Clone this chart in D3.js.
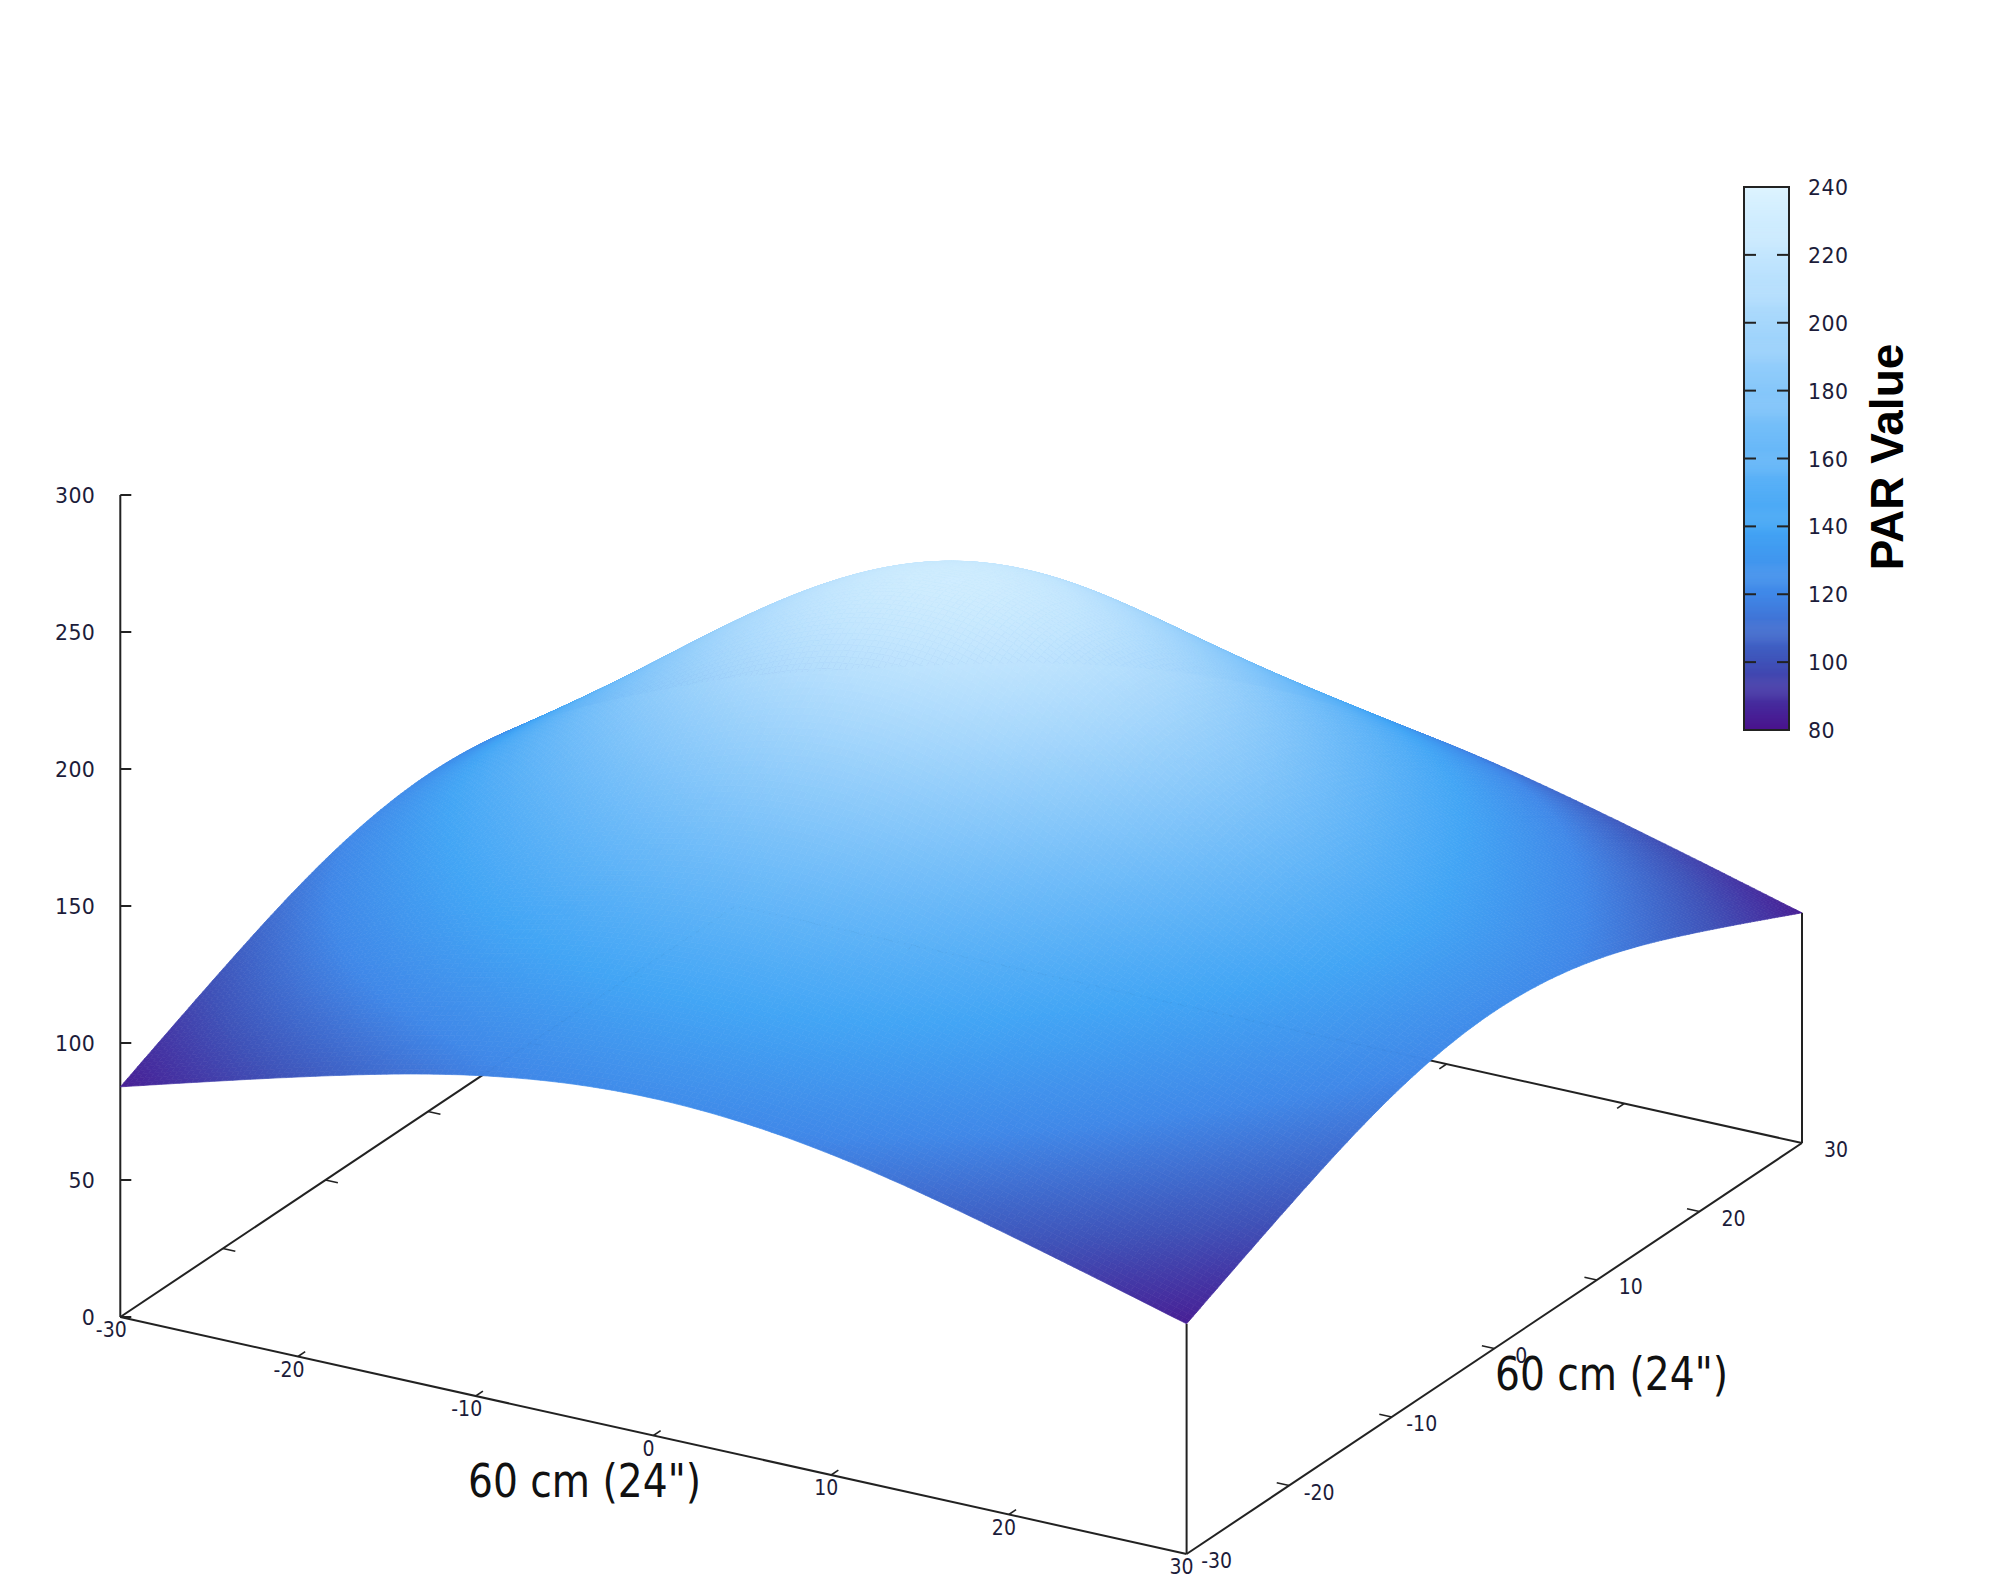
<!DOCTYPE html>
<html><head><meta charset="utf-8">
<style>html,body{margin:0;padding:0;background:#fff}svg{display:block}
text{font-family:"DejaVu Sans";fill:#1c1c3a}</style>
<script src="https://cdn.jsdelivr.net/npm/d3@7/dist/d3.min.js"></script>
</head><body><svg id="c" width="2007" height="1579"></svg>
<script>
const axisPos=[-30,-20,-10,0,10,20,30];
const zTicks=[0,50,100,150,200,250,300];
const cbTicks=[80,100,120,140,160,180,200,220,240];
const cbColors=["#4a128c","#3f52b8","#4088e8","#42a5f5","#64b6f8","#86c7fa","#a6d7fc","#c3e6fe","#dcf3ff"];
const axisTitle='60 cm (24")';
const cbTitle="PAR Value";
// PAR readings, rows y=-30..30, columns x=-30..30
const row1=[84,102,117,123,117,102,84];
const row2=[102,128,145,150,140,122,102];
const row3=[117,150,178,188,167,140,117];
const row4=[123,168,212,228,197,155,123];
const row5=[117,160,200,212,186,147,117];
const row6=[102,145,175,170,155,128,102];
const row7=[84,102,117,123,117,102,84];
const grid=[row1,row2,row3,row4,row5,row6,row7];

const svg=d3.select("#c");
const A=[120.3,1317],B=[1186.6,1554],C=[1802,1143];
const sx=d3.scaleLinear([-30,30],[0,1]), sy=d3.scaleLinear([-30,30],[0,1]);
const sz=d3.scaleLinear([0,300],[0,822]);
const P=(x,y,z=0)=>{const u=sx(x),v=sy(y);
  return [A[0]+(B[0]-A[0])*u+(C[0]-B[0])*v, A[1]+(B[1]-A[1])*u+(C[1]-B[1])*v-sz(z)];};
const color=d3.scaleLinear(cbTicks,cbColors).clamp(true);

// natural cubic spline through the readings (rendering of pm3d-style smoothing)
function spline(ys){const n=ys.length,m=new Array(n).fill(0),c=new Array(n).fill(0),d=new Array(n).fill(0);
  for(let i=1;i<n-1;i++){const p=4-c[i-1];c[i]=1/p;d[i]=(6*(ys[i+1]-2*ys[i]+ys[i-1])-d[i-1])/p;}
  for(let i=n-2;i>0;i--)m[i]=d[i]-c[i]*m[i+1];
  return t=>{const i=Math.max(0,Math.min(n-2,Math.floor(t))),f=t-i,g=1-f;
    return g*ys[i]+f*ys[i+1]+((g*g*g-g)*m[i]+(f*f*f-f)*m[i+1])/6;};}
const idx=d3.scaleLinear([-30,30],[0,axisPos.length-1]);
const rowSplines=grid.map(spline);
const surf=(x,y)=>spline(rowSplines.map(s=>s(idx(x))))(idx(y));

const lineCol="#222";
const seg=(p,q,w=2)=>svg.append("line").attr("x1",p[0]).attr("y1",p[1]).attr("x2",q[0]).attr("y2",q[1]).attr("stroke",lineCol).attr("stroke-width",w);
seg(P(-30,-30),P(30,-30));seg(P(30,-30),P(30,30));seg(P(30,30),P(-30,30));seg(P(-30,30),P(-30,-30));
const tk=0.7;
axisPos.slice(1,-1).forEach(t=>{
  seg(P(t,-30),P(t,-30+tk),1.6);
  seg(P(30,t),P(30-tk,t),1.6);
  seg(P(t,30),P(t,30-tk),1.6);
  seg(P(-30,t),P(-30+tk,t),1.6);
});
seg(P(-30,-30,0),P(-30,-30,300));
zTicks.forEach(z=>{const p=P(-30,-30,z);seg(p,[p[0]+11,p[1]],2);});
seg(P(30,-30,0),P(30,-30,surf(30,-30)));
seg(P(30,30,0),P(30,30,surf(30,30)));

// surface, painted back to front
const N=180, st=60/N;
const zs=d3.range(N+1).map(i=>{const col=rowSplines.map(s=>s(idx(-30+i*st)));const f=spline(col);
  return d3.range(N+1).map(j=>f(idx(-30+j*st)));});
const cells=[];
for(let i=0;i<N;i++)for(let j=N-1;j>=0;j--)cells.push({i,j});
const pt=(i,j)=>{const p=P(-30+i*st,-30+j*st,zs[i][j]);return p[0].toFixed(1)+","+p[1].toFixed(1);};
const cz=d=>color((zs[d.i][d.j]+zs[d.i+1][d.j]+zs[d.i][d.j+1]+zs[d.i+1][d.j+1])/4);
svg.append("g").selectAll("path").data(cells).join("path")
  .attr("d",d=>"M"+pt(d.i,d.j)+"L"+pt(d.i+1,d.j)+"L"+pt(d.i+1,d.j+1)+"L"+pt(d.i,d.j+1)+"Z")
  .attr("fill",cz).attr("stroke",cz).attr("stroke-width",0.7);

const lab=(p,t,anchor="middle")=>svg.append("text").attr("x",p[0]).attr("y",p[1]).attr("text-anchor",anchor).attr("dominant-baseline","central").text(t);
const narrow=s=>s.attr("font-size",21).style("font-family","'DejaVu Sans Condensed','DejaVu Sans'").style("font-stretch","condensed");
axisPos.forEach(t=>{
  const p=P(t,-30);narrow(lab([p[0]+(t<0?-9:-5),p[1]+13],t));
  const q=P(30,t);narrow(lab([q[0]+(t<0?30:t===0?27:34),q[1]+7],t));
});
zTicks.forEach(z=>{const p=P(-30,-30,z);lab([p[0]-25,p[1]+1],z,"end").attr("font-size",20.5).attr("letter-spacing",0.4);});

const ttl=(x,y)=>svg.append("text").attr("x",x).attr("y",y).attr("font-size",46).attr("textLength",233).attr("lengthAdjust","spacingAndGlyphs").style("font-family","'DejaVu Sans Condensed','DejaVu Sans'").style("font-stretch","condensed").style("fill","#111").text(axisTitle);
ttl(468,1497);ttl(1495,1390);

const cb=d3.scaleLinear([80,240],[730,187]);
const cbVals=d3.range(80,240,0.3);
svg.append("g").selectAll("rect").data(cbVals).join("rect")
  .attr("x",1744).attr("width",45).attr("y",d=>cb(d+0.3)).attr("height",d=>cb(d)-cb(d+0.3)+0.5).attr("fill",d=>color(d));
svg.append("rect").attr("x",1744).attr("y",187).attr("width",45).attr("height",543).attr("fill","none").attr("stroke",lineCol).attr("stroke-width",2);
cbTicks.forEach(v=>{const y=cb(v);
  if(v>80&&v<240){seg([1744,y],[1756,y],2);seg([1777,y],[1789,y],2);}
  lab([1808,y+1],v,"start").attr("font-size",20.5).attr("letter-spacing",0.4);
});
svg.append("text").attr("transform","translate(1903,457) rotate(-90)").attr("text-anchor","middle")
  .attr("font-size",46).attr("font-weight","bold").style("font-family","'Liberation Sans'").style("fill","#000").text(cbTitle);
</script></body></html>
